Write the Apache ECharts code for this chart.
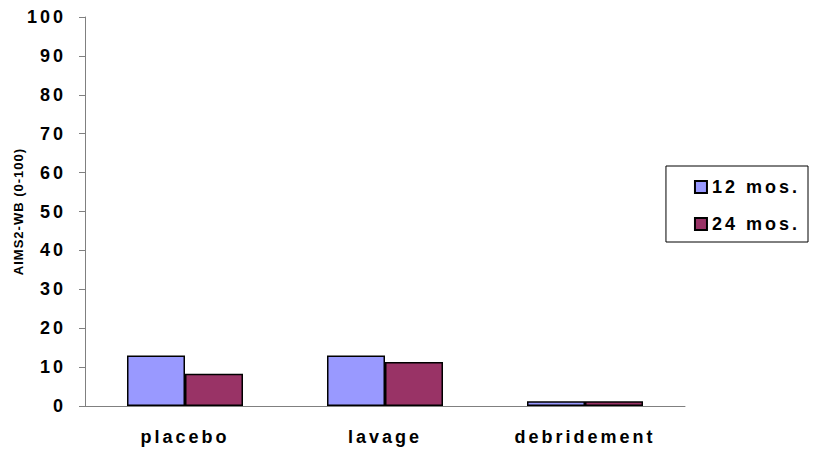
<!DOCTYPE html>
<html>
<head>
<meta charset="utf-8">
<script src="https://cdn.jsdelivr.net/npm/echarts@6/dist/echarts.min.js"></script>
<style>
  html, body { margin: 0; padding: 0; background: #fff; }
  #chart { width: 816px; height: 451px; }
  /* spaced-out bold labels */
  #chart svg text { letter-spacing: 3px; }
  #chart svg text[style*="13px"] { letter-spacing: 1px; }
</style>
</head>
<body>
<div id="chart"></div>
<script>
  // Groups along the x axis
  const categories = ['placebo', 'lavage', 'debridement'];
  // AIMS2-WB scores at each follow-up
  const seriesNames = ['12 mos.', '24 mos.'];
  const values12 = [13.0, 13.0, 1.2];
  const values24 = [8.3, 11.3, 1.2];
  const yTicks = { min: 0, max: 100, interval: 10 };
  const yAxisTitle = 'AIMS2-WB (0-100)';

  const font = 'Arial, "Liberation Sans", sans-serif';
  const chart = echarts.init(document.getElementById('chart'), null, { renderer: 'svg' });

  chart.setOption({
    animation: false,
    backgroundColor: '#ffffff',
    grid: { left: 85, right: 131, top: 17, bottom: 45, containLabel: false },
    legend: {
      orient: 'vertical',
      right: 8,
      top: 166,
      padding: [12, 29, 9, 28],
      itemGap: 19,
      itemWidth: 12,
      itemHeight: 12,
      backgroundColor: '#ffffff',
      borderColor: '#000000',
      borderWidth: 1,
      borderRadius: 0,
      icon: 'rect',
      data: seriesNames,
      textStyle: { fontFamily: font, fontWeight: 'bold', fontSize: 18, color: '#000' }
    },
    xAxis: {
      type: 'category',
      data: categories,
      axisLine: { show: true, lineStyle: { color: '#808080', width: 1 } },
      axisTick: { show: false },
      axisLabel: { fontFamily: font, fontWeight: 'bold', fontSize: 18, color: '#000', margin: 22 }
    },
    yAxis: {
      type: 'value',
      min: yTicks.min,
      max: yTicks.max,
      interval: yTicks.interval,
      name: yAxisTitle,
      nameLocation: 'middle',
      nameRotate: 90,
      nameGap: 60,
      nameTextStyle: { fontFamily: font, fontWeight: 'bold', fontSize: 13, color: '#000' },
      axisLine: { show: true, lineStyle: { color: '#808080', width: 1 } },
      axisTick: { show: true, inside: false, length: 6, lineStyle: { color: '#808080' } },
      splitLine: { show: false },
      axisLabel: { fontFamily: font, fontWeight: 'bold', fontSize: 18, color: '#000', margin: 19 }
    },
    series: [
      {
        name: seriesNames[0],
        type: 'bar',
        data: values12,
        barGap: '0%',
        barCategoryGap: '42%',
        itemStyle: { color: '#9999ff', borderColor: '#000000', borderWidth: 1.5 }
      },
      {
        name: seriesNames[1],
        type: 'bar',
        data: values24,
        itemStyle: { color: '#993366', borderColor: '#000000', borderWidth: 1.5 }
      }
    ]
  });
</script>
</body>
</html>
